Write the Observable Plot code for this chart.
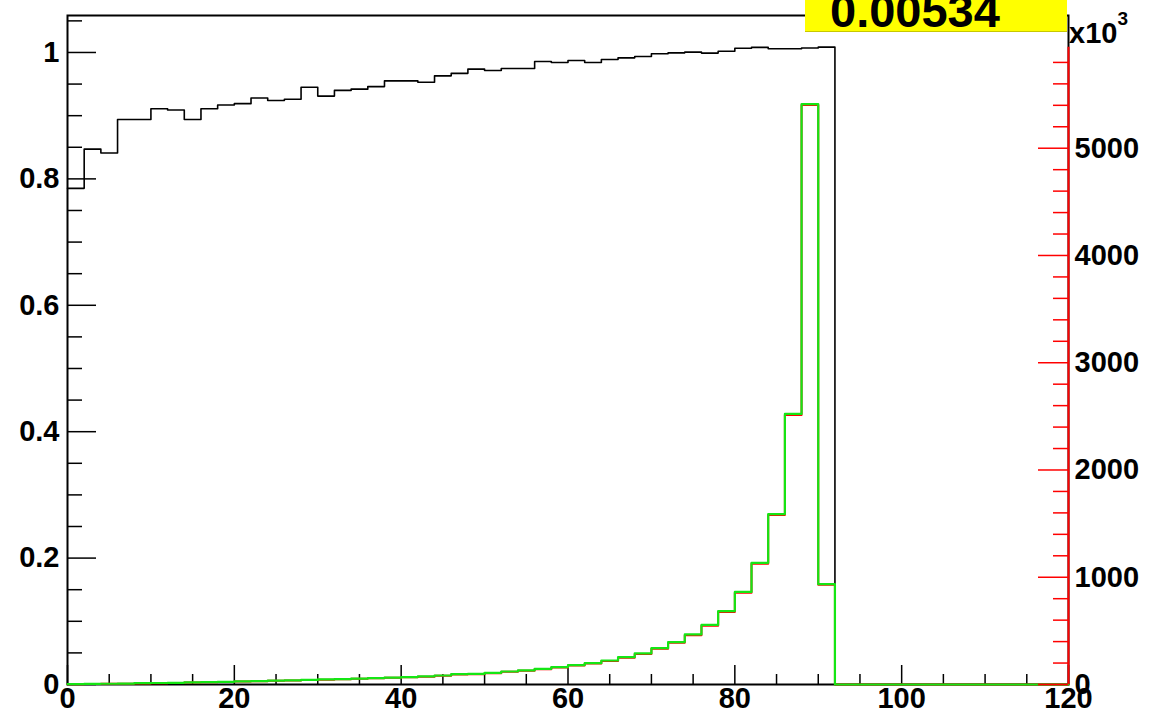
<!DOCTYPE html>
<html>
<head>
<meta charset="utf-8">
<script src="https://cdn.jsdelivr.net/npm/d3@7"></script>
<script src="https://cdn.jsdelivr.net/npm/@observablehq/plot@0.6"></script>
<style>
  html, body { margin: 0; padding: 0; background: #fff; }
  #chart svg { display: block; }
</style>
</head>
<body>
<div id="chart"></div>
<script>
// ---- data (60 bins of width 2 on [0, 120]) ----
const binLow = d3.range(0, 120, 2);
const xMax = 120;

// black histogram (left axis)
const blackVals = [
  0.785, 0.847, 0.841, 0.894, 0.894, 0.911, 0.909, 0.894, 0.911, 0.917,
  0.919, 0.928, 0.924, 0.926, 0.945, 0.931, 0.940, 0.942, 0.946, 0.955,
  0.955, 0.953, 0.963, 0.967, 0.9736, 0.9715, 0.9747, 0.9747, 0.9858, 0.9842,
  0.9873, 0.9842, 0.989, 0.9915, 0.9937, 0.998, 0.9994, 1.0005, 0.999, 1.002,
  1.0068, 1.008, 1.006, 1.006, 1.007, 1.0084, 0, 0, 0, 0,
  0, 0, 0, 0, 0, 0, 0, 0, 0, 0
];

// red histogram (right axis, x10^3)
const redVals = [
  3, 5, 6, 8, 10, 12, 15, 18, 21, 24,
  27, 30, 34, 37, 41, 45, 49, 53, 58, 62,
  67, 72, 81, 94, 96, 106, 118, 128, 142, 158,
  177, 195, 219, 250, 285, 333, 390, 460, 548, 677,
  856, 1125, 1580, 2512, 5402, 930, 0, 0, 0, 0,
  0, 0, 0, 0, 0, 0, 0, 0, 0, 0
];

// green histogram (right axis, x10^3)
const greenVals = [
  4, 6, 7, 9, 12, 14, 16, 20, 22, 25,
  29, 31, 36, 38, 43, 47, 51, 55, 60, 64,
  69, 75, 84, 97, 99, 109, 121, 131, 146, 162,
  181, 199, 224, 255, 290, 339, 396, 467, 555, 685,
  863, 1134, 1589, 2523, 5411, 935, 0, 0, 0, 0,
  0, 0, 0, 0, 0, 0, 0, 0, 0, 0
];

// tick labels
const xTickLabels = [0, 20, 40, 60, 80, 100, 120];
const yLeftTickLabels = [0, 0.2, 0.4, 0.6, 0.8, 1];
const yRightTickLabels = [0, 1000, 2000, 3000, 4000, 5000];
const paveText = "0.00534";

// ---- derived ----
const blackMax = d3.max(blackVals);
const rightMax = 1.1 * d3.max(redVals);
const rScale = blackMax / rightMax;        // right-axis units -> left-axis units

const xMinor = d3.range(0, 121, 5).filter(d => d % 20 !== 0);
const yLeftMinor = d3.range(0, 22).map(i => i * 0.05).filter((d, i) => i % 4 !== 0 && d <= 1.055);
const yRightMinor = d3.range(0, rightMax, 200).filter(d => d % 1000 !== 0);

function steps(vals, f) {
  const pts = vals.map((v, i) => ({x: binLow[i], y: f(v)}));
  pts.push({x: xMax, y: f(vals[vals.length - 1])});
  return pts;
}

const W = 1149, H = 717;
const mL = 67, mR = 81, mT = 15, mB = 33;
const innerW = W - mL - mR, innerH = H - mT - mB;
const font = "Liberation Sans, Arial, Helvetica, sans-serif";
const RED = "#ff0000", GREEN = "#14e614";

const chart = Plot.plot({
  width: W,
  height: H,
  marginLeft: mL,
  marginRight: mR,
  marginTop: mT,
  marginBottom: mB,
  x: {domain: [0, 120], axis: null},
  y: {domain: [0, 1.0585], axis: null},
  style: {background: "white", fontFamily: font},
  marks: [
    // frame
    Plot.frame({stroke: "black", strokeWidth: 2}),
    // left axis ticks
    Plot.tickY(yLeftTickLabels, {y: d => d, insetRight: innerW - 29, stroke: "black", strokeWidth: 1.5}),
    Plot.tickY(yLeftMinor, {y: d => d, insetRight: innerW - 15, stroke: "black", strokeWidth: 1.5}),
    // x axis ticks
    Plot.tickX(xTickLabels, {x: d => d, insetTop: innerH - 19, stroke: "black", strokeWidth: 1.5}),
    Plot.tickX(xMinor, {x: d => d, insetTop: innerH - 10, stroke: "black", strokeWidth: 1.5}),
    // histograms
    Plot.line(steps(blackVals, v => v), {x: "x", y: "y", curve: "step-after", stroke: "black", strokeWidth: 1.6}),
    Plot.line(steps(redVals, v => v * rScale), {x: "x", y: "y", curve: "step-after", stroke: RED, strokeWidth: 2}),
    Plot.line(steps(greenVals, v => v * rScale), {x: "x", y: "y", curve: "step-after", stroke: GREEN, strokeWidth: 2.2}),
    // right (red) axis
    Plot.ruleX([xMax], {y1: 0, y2: rightMax * rScale, stroke: RED, strokeWidth: 2}),
    Plot.tickY(yRightTickLabels, {y: d => d * rScale, insetLeft: innerW - 30, stroke: RED, strokeWidth: 1.5}),
    Plot.tickY(yRightMinor, {y: d => d * rScale, insetLeft: innerW - 15, stroke: RED, strokeWidth: 1.5}),
    // labels
    Plot.text(yLeftTickLabels, {y: d => d, text: d => String(d), frameAnchor: "left", textAnchor: "end", dx: -8,
      fontSize: 29, fontWeight: "bold", fill: "black"}),
    Plot.text(yRightTickLabels, {y: d => d * rScale, text: d => String(d), frameAnchor: "right", textAnchor: "start", dx: 6,
      fontSize: 29, fontWeight: "bold", fill: "black"}),
    Plot.text(xTickLabels, {x: d => d, text: d => String(d), frameAnchor: "bottom", lineAnchor: "top", dy: 3,
      fontSize: 29, fontWeight: "bold", fill: "black"})
  ]
});

const svg = d3.select(chart);
// yellow pave with value
svg.append("rect").attr("x", 805).attr("y", -2).attr("width", 262).attr("height", 33.5)
  .attr("fill", "#ffff00");
svg.append("line").attr("x1", 805).attr("x2", 1067).attr("y1", 31.5).attr("y2", 31.5)
  .attr("stroke", "#c8c800").attr("stroke-width", 1);
svg.append("text").attr("x", 830).attr("y", 26.5).attr("text-anchor", "start")
  .attr("font-family", font).attr("font-weight", "bold").attr("font-size", 47).attr("fill", "black")
  .text(paveText);
// x10^3 multiplier for right axis
const mult = svg.append("text").attr("x", 1069).attr("y", 43).attr("text-anchor", "start")
  .attr("font-family", font).attr("font-weight", "bold").attr("font-size", 29).attr("fill", "black");
mult.append("tspan").text("x10");
mult.append("tspan").attr("dy", -18).attr("font-size", 19).text("3");

document.getElementById("chart").appendChild(chart);
</script>
</body>
</html>
